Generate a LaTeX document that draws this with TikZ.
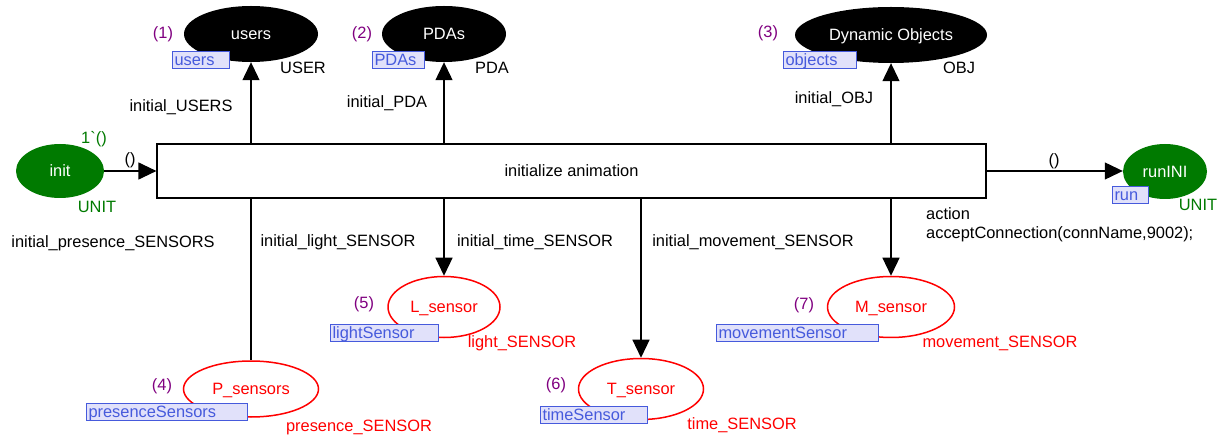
\documentclass[tikz,border=0pt]{standalone}
\usepackage{fontspec}
\newfontfamily\petfont{Liberation Sans}
\usetikzlibrary{shapes.geometric,arrows.meta}
\definecolor{petgreen}{RGB}{0,122,0}
\definecolor{petred}{RGB}{255,0,0}
\definecolor{petpurple}{RGB}{128,0,128}
\definecolor{tagblue}{RGB}{70,90,220}
\definecolor{taglav}{RGB}{225,225,250}
\begin{document}
\begin{tikzpicture}[x=1pt,y=-1pt,
  every node/.style={font=\petfont\fontsize{16.4}{19.7}\selectfont},
  lbl/.style={inner sep=0pt, text height=11.8pt, text depth=0pt},
  idx/.style={lbl, text=petpurple},
  typ/.style={lbl, text=petred},
  arc/.style={line width=1.2pt, -{Triangle[length=18pt,width=17pt]}},
  plainarc/.style={line width=1.2pt},
  fusion/.style={ellipse, fill=black, text=white, inner sep=0pt, text height=11.8pt, text depth=0pt},
  ctrlplace/.style={ellipse, fill=petgreen, text=white, inner sep=0pt, text height=11.8pt, text depth=0pt},
  sensplace/.style={ellipse, draw=petred, line width=1.5pt, text=petred, inner sep=0pt, text height=11.8pt, text depth=0pt},
  trans/.style={draw, line width=1.2pt, inner sep=0pt, text height=11.8pt, text depth=0pt},
  tagbox/.style={draw=tagblue, fill=taglav, text=tagblue, line width=1pt, inner xsep=2pt, inner ysep=0pt, text height=13.6pt, text depth=3.4pt, anchor=north west, align=left}]
\useasboundingbox (0,0) rectangle (1220,435);

% transition
\node[trans, minimum width=829pt, minimum height=54pt] (tr) at (571.5,171) {initialize animation};

% fusion places
\node[fusion, minimum width=134pt, minimum height=56pt] (users) at (251,34) {users};
\node[fusion, minimum width=124pt, minimum height=56pt] (pdas) at (444,34) {PDAs};
\node[fusion, minimum width=192pt, minimum height=56pt] (objs) at (891,35) {Dynamic Objects};

% control places
\node[ctrlplace, minimum width=88pt, minimum height=54pt] (init) at (60,171) {init};
\node[ctrlplace, minimum width=84pt, minimum height=55pt] (runini) at (1165,171.5) {runINI};

% sensor places
\node[sensplace, minimum width=112pt, minimum height=61pt] (lsens) at (444,307) {L\_sensor};
\node[sensplace, minimum width=135pt, minimum height=56pt] (psens) at (251,389) {P\_sensors};
\node[sensplace, minimum width=125pt, minimum height=61pt] (tsens) at (641,389) {T\_sensor};
\node[sensplace, minimum width=127pt, minimum height=61pt] (msens) at (891,307) {M\_sensor};

% fusion tags
\node[tagbox, text width=53pt] (tusers) at (172,51) {users};
\node[tagbox, text width=48pt] (tpdas) at (372,51) {PDAs};
\node[tagbox, text width=69pt] (tobjs) at (783,51) {objects};
\node[tagbox, text width=32pt] (trun) at (1112,186) {run};
\node[tagbox, text width=104pt] (tlight) at (330,324) {lightSensor};
\node[tagbox, text width=157pt] (tpres) at (86,403) {presenceSensors};
\node[tagbox, text width=103pt] (ttime) at (540,406) {timeSensor};
\node[tagbox, text width=158pt] (tmove) at (716,324) {movementSensor};

% arcs
\draw[arc] (init.east) -- (tr.west);
\draw[arc] (tr.east) -- (tr.east -| runini.west);
\draw[arc] (tr.north -| users.south) -- (users.south);
\draw[arc] (tr.north -| pdas.south) -- (pdas.south);
\draw[arc] (tr.north -| objs.south) -- (objs.south);
\draw[plainarc] (tr.south -| psens.north) -- (psens.north);
\draw[arc] (tr.south -| lsens.north) -- (lsens.north);
\draw[arc] (tr.south -| tsens.north) -- (tsens.north);
\draw[arc] (tr.south -| msens.north) -- (msens.north);

% init / runINI inscriptions
\node[lbl, text=petgreen] (initmark) at (94,138) {1\char"60()};
\node[lbl, text=petgreen] (inittype) at (97,207) {UNIT};
\node[lbl] (ininit) at (130,159) {()};
\node[lbl] (outrun) at (1054,160) {()};
\node[lbl, text=petgreen] (runtype) at (1198,205) {UNIT};

% fusion place inscriptions
\node[idx] (n1) at (163,33) {(1)};
\node[lbl] (usertype) at (303,68) {USER};
\node[lbl] (ausers) at (181,106) {initial\_USERS};
\node[idx] (n2) at (362,33) {(2)};
\node[lbl] (pdatype) at (492,68) {PDA};
\node[lbl] (apda) at (387,102) {initial\_PDA};
\node[idx] (n3) at (768,32) {(3)};
\node[lbl] (objtype) at (959,68) {OBJ};
\node[lbl] (aobj) at (834,98) {initial\_OBJ};

% transition action
\node[lbl, anchor=west] (act1) at (926,214) {action};
\node[lbl, anchor=west] (act2) at (926,233) {acceptConnection(connName,9002);};

% sensor arc inscriptions
\node[lbl] (apres) at (113,242) {initial\_presence\_SENSORS};
\node[lbl] (alight) at (338,241) {initial\_light\_SENSOR};
\node[lbl] (atime) at (535,241) {initial\_time\_SENSOR};
\node[lbl] (amove) at (753,241) {initial\_movement\_SENSOR};

% sensor place inscriptions
\node[idx] (n5) at (364,303) {(5)};
\node[typ] (lighttype) at (522,342) {light\_SENSOR};
\node[idx] (n4) at (162,385) {(4)};
\node[typ] (prestype) at (359,426) {presence\_SENSOR};
\node[idx] (n6) at (556,384) {(6)};
\node[typ] (timetype) at (742,424) {time\_SENSOR};
\node[idx] (n7) at (804,304) {(7)};
\node[typ] (movetype) at (1000,342) {movement\_SENSOR};
\end{tikzpicture}
\end{document}
